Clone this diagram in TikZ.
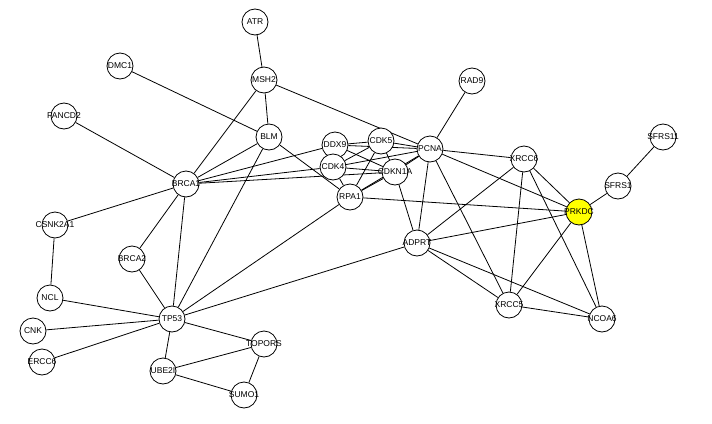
\documentclass[tikz,border=0pt]{standalone}
\usepackage{fontspec}
\setmainfont{Liberation Sans}
\usetikzlibrary{backgrounds}
\definecolor{hilite}{RGB}{255,255,0}
\tikzset{
  gene/.style={circle,draw=black,fill=white,line width=0.8pt,minimum size=26pt,inner sep=0pt,font=\fontsize{8.5}{9}\selectfont},
  hgene/.style={gene,fill=hilite},
  link/.style={draw=black,line width=0.8pt}
}
\newcommand{\gl}[1]{\makebox[0pt]{#1}}
\begin{document}
\begin{tikzpicture}[x=1pt,y=-1pt]
\useasboundingbox (0,0) rectangle (712,423);
\node[gene] (ATR) at (255,22) {\gl{ATR}};
\node[gene] (DMC1) at (120,66) {\gl{DMC1}};
\node[gene] (MSH2) at (264,80) {\gl{MSH2}};
\node[gene] (FANCD2) at (64,116) {\gl{FANCD2}};
\node[gene] (BLM) at (269,137) {\gl{BLM}};
\node[gene] (DDX9) at (335,145) {\gl{DDX9}};
\node[gene] (CDK5) at (381,141) {\gl{CDK5}};
\node[gene] (PCNA) at (430,149) {\gl{PCNA}};
\node[gene] (CDK4) at (333,167) {\gl{CDK4}};
\node[gene] (CDKN1A) at (395,172) {\gl{CDKN1A}};
\node[gene] (RPA1) at (350,197) {\gl{RPA1}};
\node[gene] (BRCA1) at (186,184) {\gl{BRCA1}};
\node[gene] (RAD9) at (472,81) {\gl{RAD9}};
\node[gene] (XRCC6) at (524,159) {\gl{XRCC6}};
\node[gene] (SFRS11) at (663,137) {\gl{SFRS11}};
\node[gene] (SFRS1) at (618,186) {\gl{SFRS1}};
\node[hgene] (PRKDC) at (579,212) {\gl{PRKDC}};
\node[gene] (ADPRT) at (417,243) {\gl{ADPRT}};
\node[gene] (XRCC5) at (509,305) {\gl{XRCC5}};
\node[gene] (NCOA6) at (602,319) {\gl{NCOA6}};
\node[gene] (CSNK2A1) at (55,225) {\gl{CSNK2A1}};
\node[gene] (BRCA2) at (132,259) {\gl{BRCA2}};
\node[gene] (NCL) at (50,298) {\gl{NCL}};
\node[gene] (TP53) at (172,319) {\gl{TP53}};
\node[gene] (CNK) at (33,331) {\gl{CNK}};
\node[gene] (ERCC6) at (42,362) {\gl{ERCC6}};
\node[gene] (TOPORS) at (264,344) {\gl{TOPORS}};
\node[gene] (UBE2I) at (163,371) {\gl{UBE2I}};
\node[gene] (SUMO1) at (244,395) {\gl{SUMO1}};
\begin{pgfonlayer}{background}
\foreach \a/\b in {ATR/MSH2, DMC1/BLM, MSH2/BRCA1, MSH2/BLM, MSH2/PCNA,
  FANCD2/BRCA1, BLM/BRCA1, BLM/TP53, BLM/RPA1,
  BRCA1/DDX9, BRCA1/CDK4, BRCA1/CDKN1A, BRCA1/CSNK2A1, BRCA1/BRCA2, BRCA1/TP53,
  DDX9/CDK5, DDX9/PCNA, DDX9/CDKN1A, DDX9/CDK4,
  CDK5/CDK4, CDK5/RPA1, CDK5/CDKN1A, CDK5/PCNA,
  CDK4/PCNA, CDK4/CDKN1A, CDK4/RPA1,
  RPA1/CDKN1A, RPA1/PCNA, CDKN1A/PCNA, RPA1/PRKDC, RPA1/TP53,
  CDKN1A/ADPRT,
  PCNA/RAD9, PCNA/XRCC6, PCNA/PRKDC, PCNA/ADPRT, PCNA/XRCC5,
  XRCC6/ADPRT, XRCC6/XRCC5, XRCC6/PRKDC, XRCC6/NCOA6,
  PRKDC/SFRS1, SFRS1/SFRS11, PRKDC/ADPRT, PRKDC/XRCC5, PRKDC/NCOA6,
  ADPRT/TP53, ADPRT/XRCC5, ADPRT/NCOA6, XRCC5/NCOA6,
  CSNK2A1/NCL, BRCA2/TP53, NCL/TP53, CNK/TP53, ERCC6/TP53,
  TP53/TOPORS, TP53/UBE2I, UBE2I/TOPORS, UBE2I/SUMO1, TOPORS/SUMO1}
  \draw[link] (\a) -- (\b);
\end{pgfonlayer}
\end{tikzpicture}
\end{document}
